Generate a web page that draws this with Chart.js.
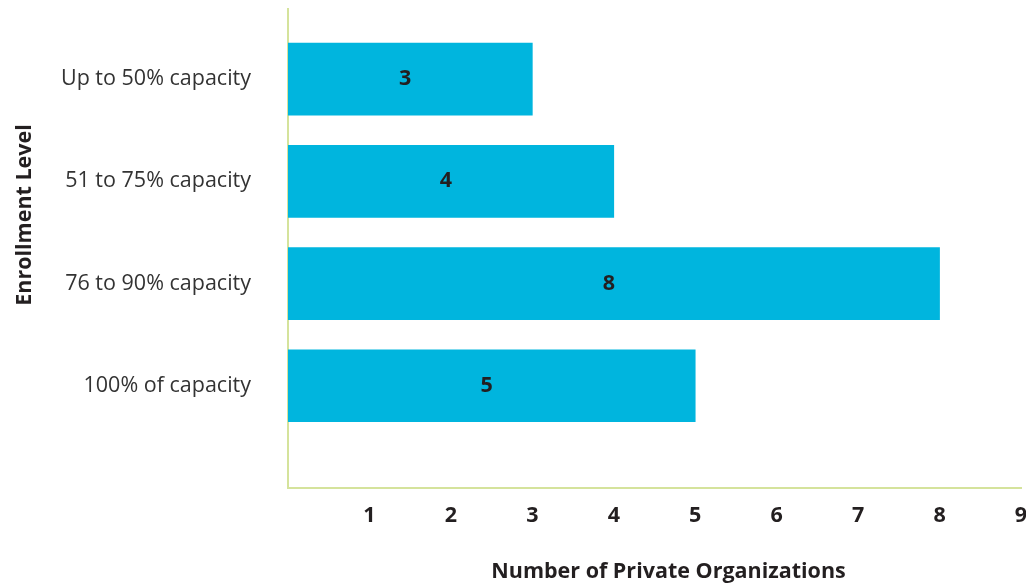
<!DOCTYPE html>
<html>
<head>
<meta charset="utf-8">
<script src="https://cdn.jsdelivr.net/npm/chart.js@4"></script>
<style>
html,body{margin:0;padding:0;background:#fff;}
#wrap{width:1026px;height:586px;position:relative;}
</style>
</head>
<body>
<div id="wrap"><canvas id="c" width="1026" height="586"></canvas></div>
<script>
const categories = ['Up to 50% capacity', '51 to 75% capacity', '76 to 90% capacity', '100% of capacity'];
const counts = [3, 4, 8, 5];
const xTicks = [1, 2, 3, 4, 5, 6, 7, 8, 9];
const xTitle = 'Number of Private Organizations';
const yTitle = 'Enrollment Level';

const FONT = "'Open Sans', 'Liberation Sans', sans-serif";
const barColor = '#00b5de';
const axisColor = '#d5e39c';
const textDark = '#231f20';

const labelPlugin = {
  id: 'barLabels',
  afterDatasetsDraw(chart) {
    const ctx = chart.ctx;
    const meta = chart.getDatasetMeta(0);
    ctx.save();
    ctx.font = "bold 21.5px " + FONT;
    ctx.fillStyle = textDark;
    ctx.textAlign = 'center';
    ctx.textBaseline = 'middle';
    meta.data.forEach((bar, i) => {
      const cx = (bar.x + bar.base) / 2 - 5;
      ctx.fillText(String(counts[i]), cx, bar.y);
    });
    // axis titles
    const area = chart.chartArea;
    ctx.fillText(xTitle, (area.left + area.right) / 2 + 14, 572);
    ctx.translate(25, 215);
    ctx.rotate(-Math.PI / 2);
    ctx.fillText(yTitle, 0, 0);
    ctx.restore();
  }
};

new Chart(document.getElementById('c'), {
  type: 'bar',
  data: {
    datasets: [{
      data: counts.map((v, i) => ({ x: v, y: i })),
      backgroundColor: barColor,
      borderWidth: 0,
      barThickness: 72
    }]
  },
  options: {
    indexAxis: 'y',
    responsive: false,
    animation: false,
    layout: { padding: { top: 9, right: 5, left: 0, bottom: 0 } },
    plugins: { legend: { display: false }, tooltip: { enabled: false } },
    scales: {
      x: {
        type: 'linear',
        min: 0,
        max: 9,
        offset: false,
        grid: { display: false, drawTicks: false, tickLength: 0 },
        border: { display: true, color: axisColor, width: 2 },
        afterBuildTicks(s) { s.ticks = xTicks.map(v => ({ value: v })); },
        ticks: {
          padding: 15,
          color: textDark,
          font: { family: FONT, size: 21.5, weight: 'bold' },
          maxRotation: 0,
          autoSkip: false
        },
        afterFit(s) { s.height = 98; s.paddingRight = 0; s.paddingLeft = 0; }
      },
      y: {
        type: 'linear',
        reverse: true,
        offset: false,
        min: -0.686,
        max: 4,
        grid: { display: false, drawTicks: false, tickLength: 0, offset: false },
        border: { display: true, color: axisColor, width: 2 },
        afterBuildTicks(s) { s.ticks = categories.map((c, i) => ({ value: i })); },
        ticks: {
          padding: 37,
          color: '#333333',
          font: { family: FONT, size: 21.5 },
          autoSkip: false,
          callback: (v) => categories[v] ?? ''
        },
        afterFit(s) { s.width = 288; s.paddingTop = 0; s.paddingBottom = 0; }
      }
    }
  },
  plugins: [labelPlugin]
});
</script>
</body>
</html>
